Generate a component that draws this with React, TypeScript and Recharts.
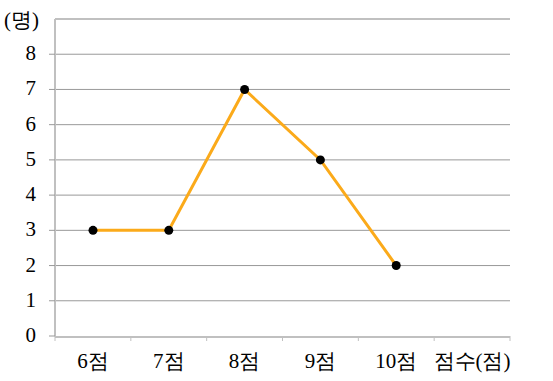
import { LineChart, Line, XAxis, YAxis, CartesianGrid, ReferenceLine } from 'recharts';

const categories = ['6점', '7점', '8점', '9점', '10점', '점수(점)'];
const counts = [3, 3, 7, 5, 2, null];
const yTicks = [0, 1, 2, 3, 4, 5, 6, 7, 8];
const boundaryTicks = [0, 1, 2, 3, 4, 5, 6];

const data = categories.map((name, i) => ({ name, count: counts[i], slot: i + 0.5 }));

const font = '"Liberation Serif", "DejaVu Serif", serif';
const frame = '#c0c0c0';

const XTick = (props: any) => (
  <text x={props.x} y={props.y + 23} textAnchor="middle" style={{ fontFamily: font, fontSize: 21, fill: '#000' }}>
    {props.payload.value}
  </text>
);

const YTick = (props: any) => (
  <text x={36} y={props.y + 6} textAnchor="end" style={{ fontFamily: font, fontSize: 21, fill: '#000' }}>
    {props.payload.value}
  </text>
);

const Empty = () => <g />;

export default function App() {
  return (
    <div style={{ position: 'absolute', left: 0, top: 0, background: '#fff' }}>
      <LineChart width={553} height={381} data={data} margin={{ top: 19, right: 43, bottom: 0, left: 0 }}>
        <CartesianGrid vertical={false} stroke="#999" horizontalValues={[1, 2, 3, 4, 5, 6, 7, 8]} />
        <XAxis
          xAxisId={0}
          dataKey="slot"
          type="number"
          domain={[0, 6]}
          allowDataOverflow
          ticks={boundaryTicks}
          interval={0}
          height={1}
          axisLine={false}
          tickSize={5}
          tickLine={{ stroke: frame }}
          tick={Empty}
        />
        <XAxis
          xAxisId="cat"
          dataKey="name"
          height={44}
          padding={{ left: 38, right: 38 }}
          tickLine={false}
          interval={0}
          axisLine={{ stroke: frame, strokeWidth: 2 }}
          tick={XTick}
        />
        <YAxis
          domain={[0, 9]}
          ticks={yTicks}
          width={55}
          interval={0}
          tickSize={6}
          tickLine={{ stroke: '#999' }}
          axisLine={{ stroke: frame, strokeWidth: 2 }}
          tick={YTick}
          label={{ value: '(명)', position: 'top', offset: -8, dx: -6, fill: '#000', style: { fontFamily: font, fontSize: 21 } }}
        />
        <YAxis yAxisId="r" orientation="right" width={0} tick={false} tickLine={false} axisLine={{ stroke: frame, strokeWidth: 2 }} />
        <ReferenceLine y={9} stroke={frame} strokeWidth={2} />
        <Line
          xAxisId="cat"
          dataKey="count"
          stroke="#FBAA1A"
          strokeWidth={3}
          dot={{ r: 4.5, fill: '#000', stroke: '#000', strokeWidth: 0 }}
          activeDot={false}
          isAnimationActive={false}
        />
      </LineChart>
    </div>
  );
}
